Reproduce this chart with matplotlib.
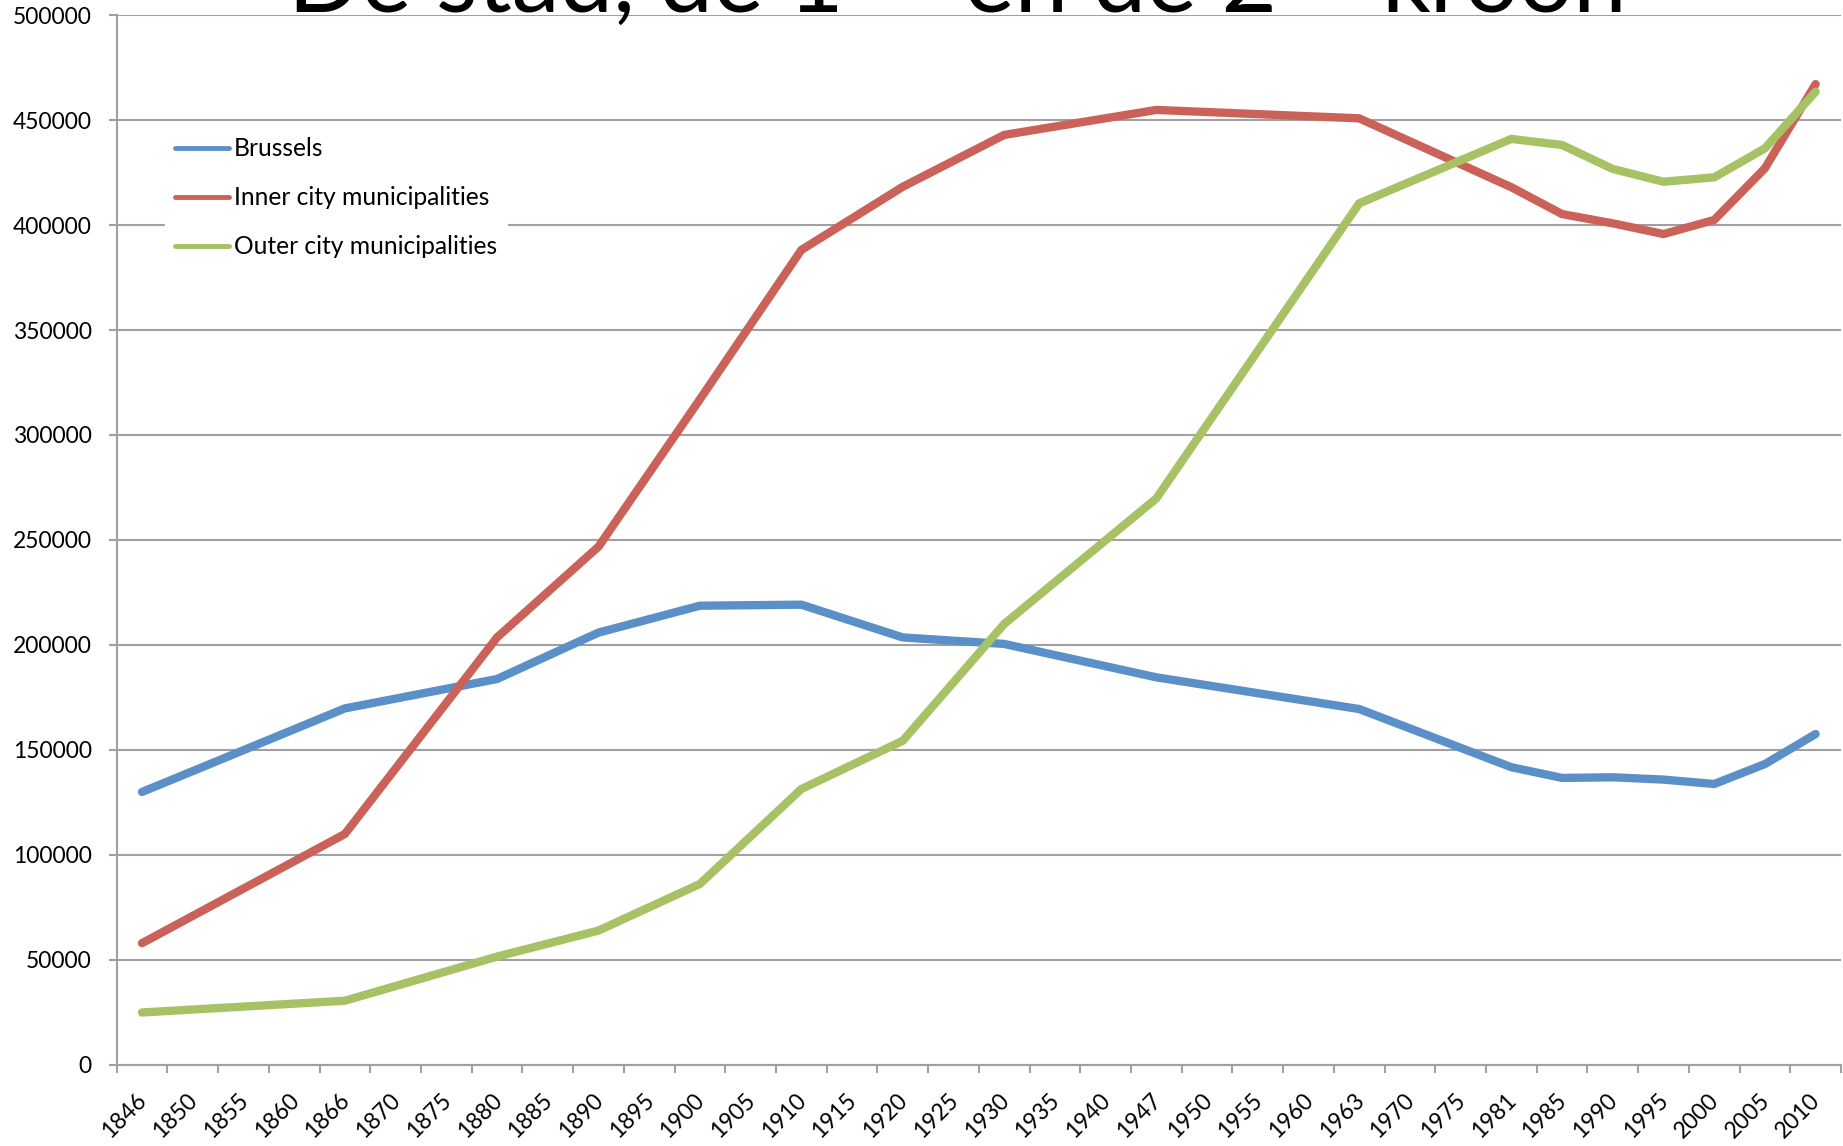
import numpy as np
import matplotlib.pyplot as plt

plt.rcParams['font.family'] = ['Lato', 'DejaVu Sans']

# Census years on the category axis
years = ['1846', '1850', '1855', '1860', '1866', '1870', '1875', '1880', '1885',
         '1890', '1895', '1900', '1905', '1910', '1915', '1920', '1925', '1930',
         '1935', '1940', '1947', '1950', '1955', '1960', '1963', '1970', '1975',
         '1981', '1985', '1990', '1995', '2000', '2005', '2010']

nan = np.nan
# Population per series (nan where no value for that year)
brussels = [130000, nan, nan, nan, 169800, nan, nan, 183800, nan, 205900, nan,
            218700, nan, 219200, nan, 203600, nan, 200500, nan, nan, 184600,
            nan, nan, nan, 169500, nan, nan, 141800, 136700, 137000, 135900,
            133800, 143300, 157600]
inner = [58000, nan, nan, nan, 110000, nan, nan, 203600, nan, 246800, nan,
         317000, nan, 388100, nan, 418200, nan, 442900, nan, nan, 454800,
         nan, nan, nan, 450800, nan, nan, 418000, 405200, 400800, 395700,
         402400, 427000, 467100]
outer = [25000, nan, nan, nan, 30600, nan, nan, 51600, nan, 64000, nan,
         86200, nan, 131400, nan, 154400, nan, 210000, nan, nan, 269800,
         nan, nan, nan, 410300, nan, nan, 441000, 438100, 426700, 420600,
         422700, 436500, 463500]

series_names = ['Brussels', 'Inner city municipalities', 'Outer city municipalities']
series_colors = ['#5b8fc7', '#cb6259', '#a6c265']

fig = plt.figure(figsize=(18.43, 11.46), dpi=100)
ax = fig.add_axes([0.0633, 0.0707, 0.9356, 0.9162])

# Draw each series, connecting across the missing years
centers = np.arange(len(years)) + 0.5
for values, name, color in zip([brussels, inner, outer], series_names, series_colors):
    values = np.array(values, dtype=float)
    ok = ~np.isnan(values)
    ax.plot(centers[ok], values[ok], color=color, lw=6, label=name,
            solid_capstyle='round', solid_joinstyle='miter')

# Axes and grid
grey = '#a0a0a0'
ax.set_xlim(0, len(years))
ax.set_ylim(0, 500000)
ax.set_yticks(np.arange(0, 500001, 50000))
ax.yaxis.grid(True, color=grey, lw=1.5)
ax.set_axisbelow(True)
for side in ['top', 'right']:
    ax.spines[side].set_visible(False)
for side in ['left', 'bottom']:
    ax.spines[side].set_color(grey)
    ax.spines[side].set_linewidth(1.5)

ax.set_xticks(np.arange(len(years) + 1))
ax.set_xticklabels([])
ax.set_xticks(centers, labels=years, minor=True)
ax.tick_params(axis='x', which='major', length=6, width=1.5, color=grey)
ax.tick_params(axis='x', which='minor', length=0, pad=22, labelsize=16.5)
for label in ax.get_xticklabels(minor=True):
    label.set_rotation(45)
    label.set_ha('right')
    label.set_va('center_baseline')
    label.set_rotation_mode('anchor')
ax.tick_params(axis='y', length=6, width=1.5, color=grey, pad=12, labelsize=16.5)
for label in ax.get_yticklabels():
    label.set_va('center_baseline')

# Legend in the upper left corner
leg = ax.legend(loc='upper left', bbox_to_anchor=(0.028, 0.893), frameon=True,
                fancybox=False, edgecolor='white', framealpha=1, borderpad=0.4,
                labelspacing=1.06, handlelength=2.2, handletextpad=0.2,
                borderaxespad=0, fontsize=17.7)
for line in leg.get_lines():
    line.set_linewidth(3.5)

# Title, mostly cut off at the top edge
ty = 1 - 12 / 1146
fig.text(288 / 1843, ty, 'De stad, de 1', fontsize=69, va='baseline')
fig.text(815 / 1843, ty + 110 / 1146, 'ste', fontsize=45, va='baseline')
fig.text(964 / 1843, ty, 'en de 2', fontsize=69, va='baseline')
fig.text(1252 / 1843, ty + 110 / 1146, 'de', fontsize=45, va='baseline')
fig.text(1381 / 1843, ty, 'kroon', fontsize=69, va='baseline')

plt.savefig('out.png', dpi=100)
